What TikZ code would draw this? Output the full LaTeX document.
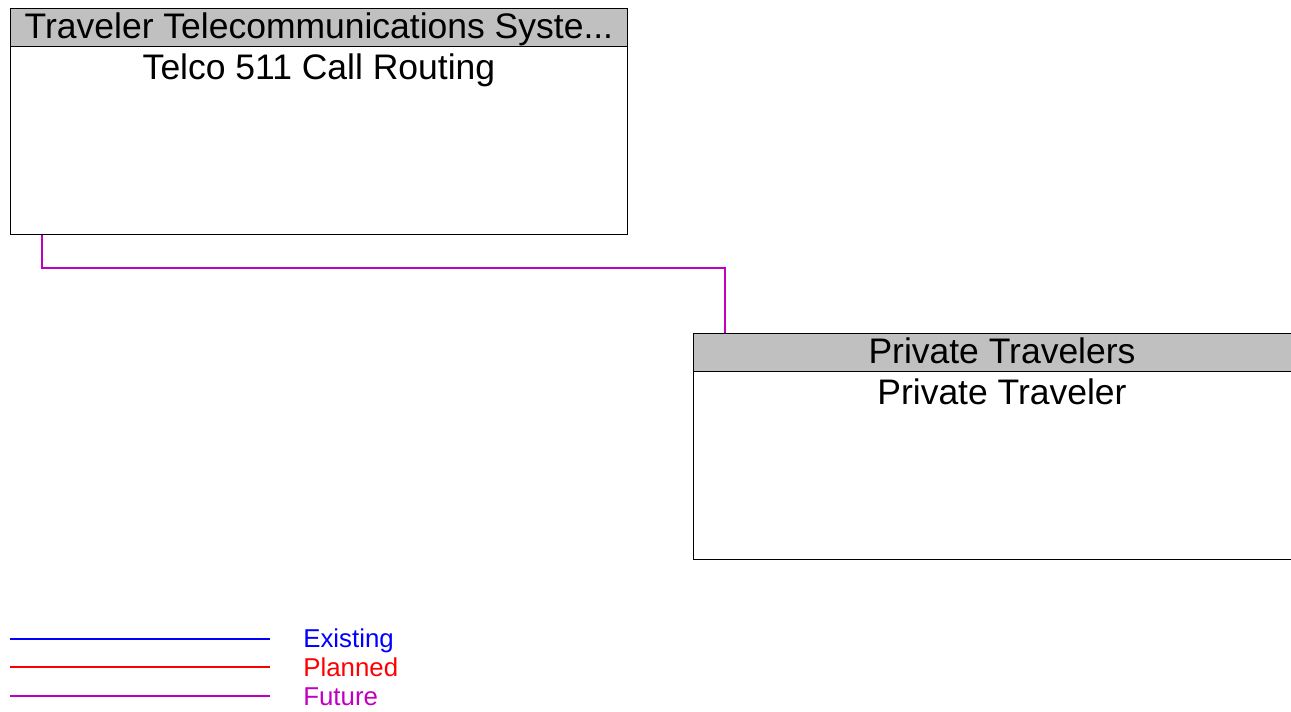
\documentclass[tikz,border=0pt]{standalone}
\usepackage{fontspec}
\setmainfont{Liberation Sans}
\usetikzlibrary{positioning}
\begin{document}
\begin{tikzpicture}[x=0.02cm, y=-0.02cm,
  boxbody/.style={draw=black, line width=0.6pt, fill=white, inner sep=0pt,
    minimum width=12.34cm, minimum height=4.52cm, anchor=north west},
  boxhead/.style={draw=black, line width=0.6pt, fill=headGray, inner sep=0pt,
    minimum width=12.34cm, minimum height=0.76cm, anchor=north west,
    text depth=0.08cm, font=\fontsize{20.2}{24}\selectfont},
  boxname/.style={anchor=base, inner sep=0pt, font=\fontsize{20.2}{24}\selectfont},
  legtext/.style={anchor=base west, inner sep=0pt, font=\fontsize{14.7}{17}\selectfont},
  flow/.style={line width=0.6pt}]

% Colori
\definecolor{headGray}{HTML}{C0C0C0}
\definecolor{colExist}{HTML}{0000FF}
\definecolor{colPlan}{HTML}{FF0000}
\definecolor{colFut}{HTML}{C000C0}

% Area del disegno
\clip (0,0) rectangle (1291,711);

% Telco 511
\node[boxbody] (telco) at (10,8) {};
\node[boxhead] (telcoHead) at (telco.north west) {Traveler Telecommunications Syste...};
\node[boxname] (telcoName) at ([yshift=-0.64cm]telcoHead.south) {Telco 511 Call Routing};

% Private Traveler (tagliato a destra)
\node[boxbody] (trav) at (693,333) {};
\node[boxhead] (travHead) at (trav.north west) {Private Travelers};
\node[boxname] (travName) at ([yshift=-0.64cm]travHead.south) {Private Traveler};

% Flusso futuro
\draw[flow, draw=colFut] ([xshift=0.64cm]telco.south west) -- ++(0,33)
  -| ([xshift=0.64cm]trav.north west);

% Legenda
\draw[flow, draw=colExist] (10,639) -- (270,639);
\node[legtext, text=colExist] (legExist) at (303,647) {Existing};
\draw[flow, draw=colPlan] (10,667) -- (270,667);
\node[legtext, text=colPlan] (legPlan) at (303,676) {Planned};
\draw[flow, draw=colFut] (10,696) -- (270,696);
\node[legtext, text=colFut] (legFut) at (303,705) {Future};
\end{tikzpicture}
\end{document}
